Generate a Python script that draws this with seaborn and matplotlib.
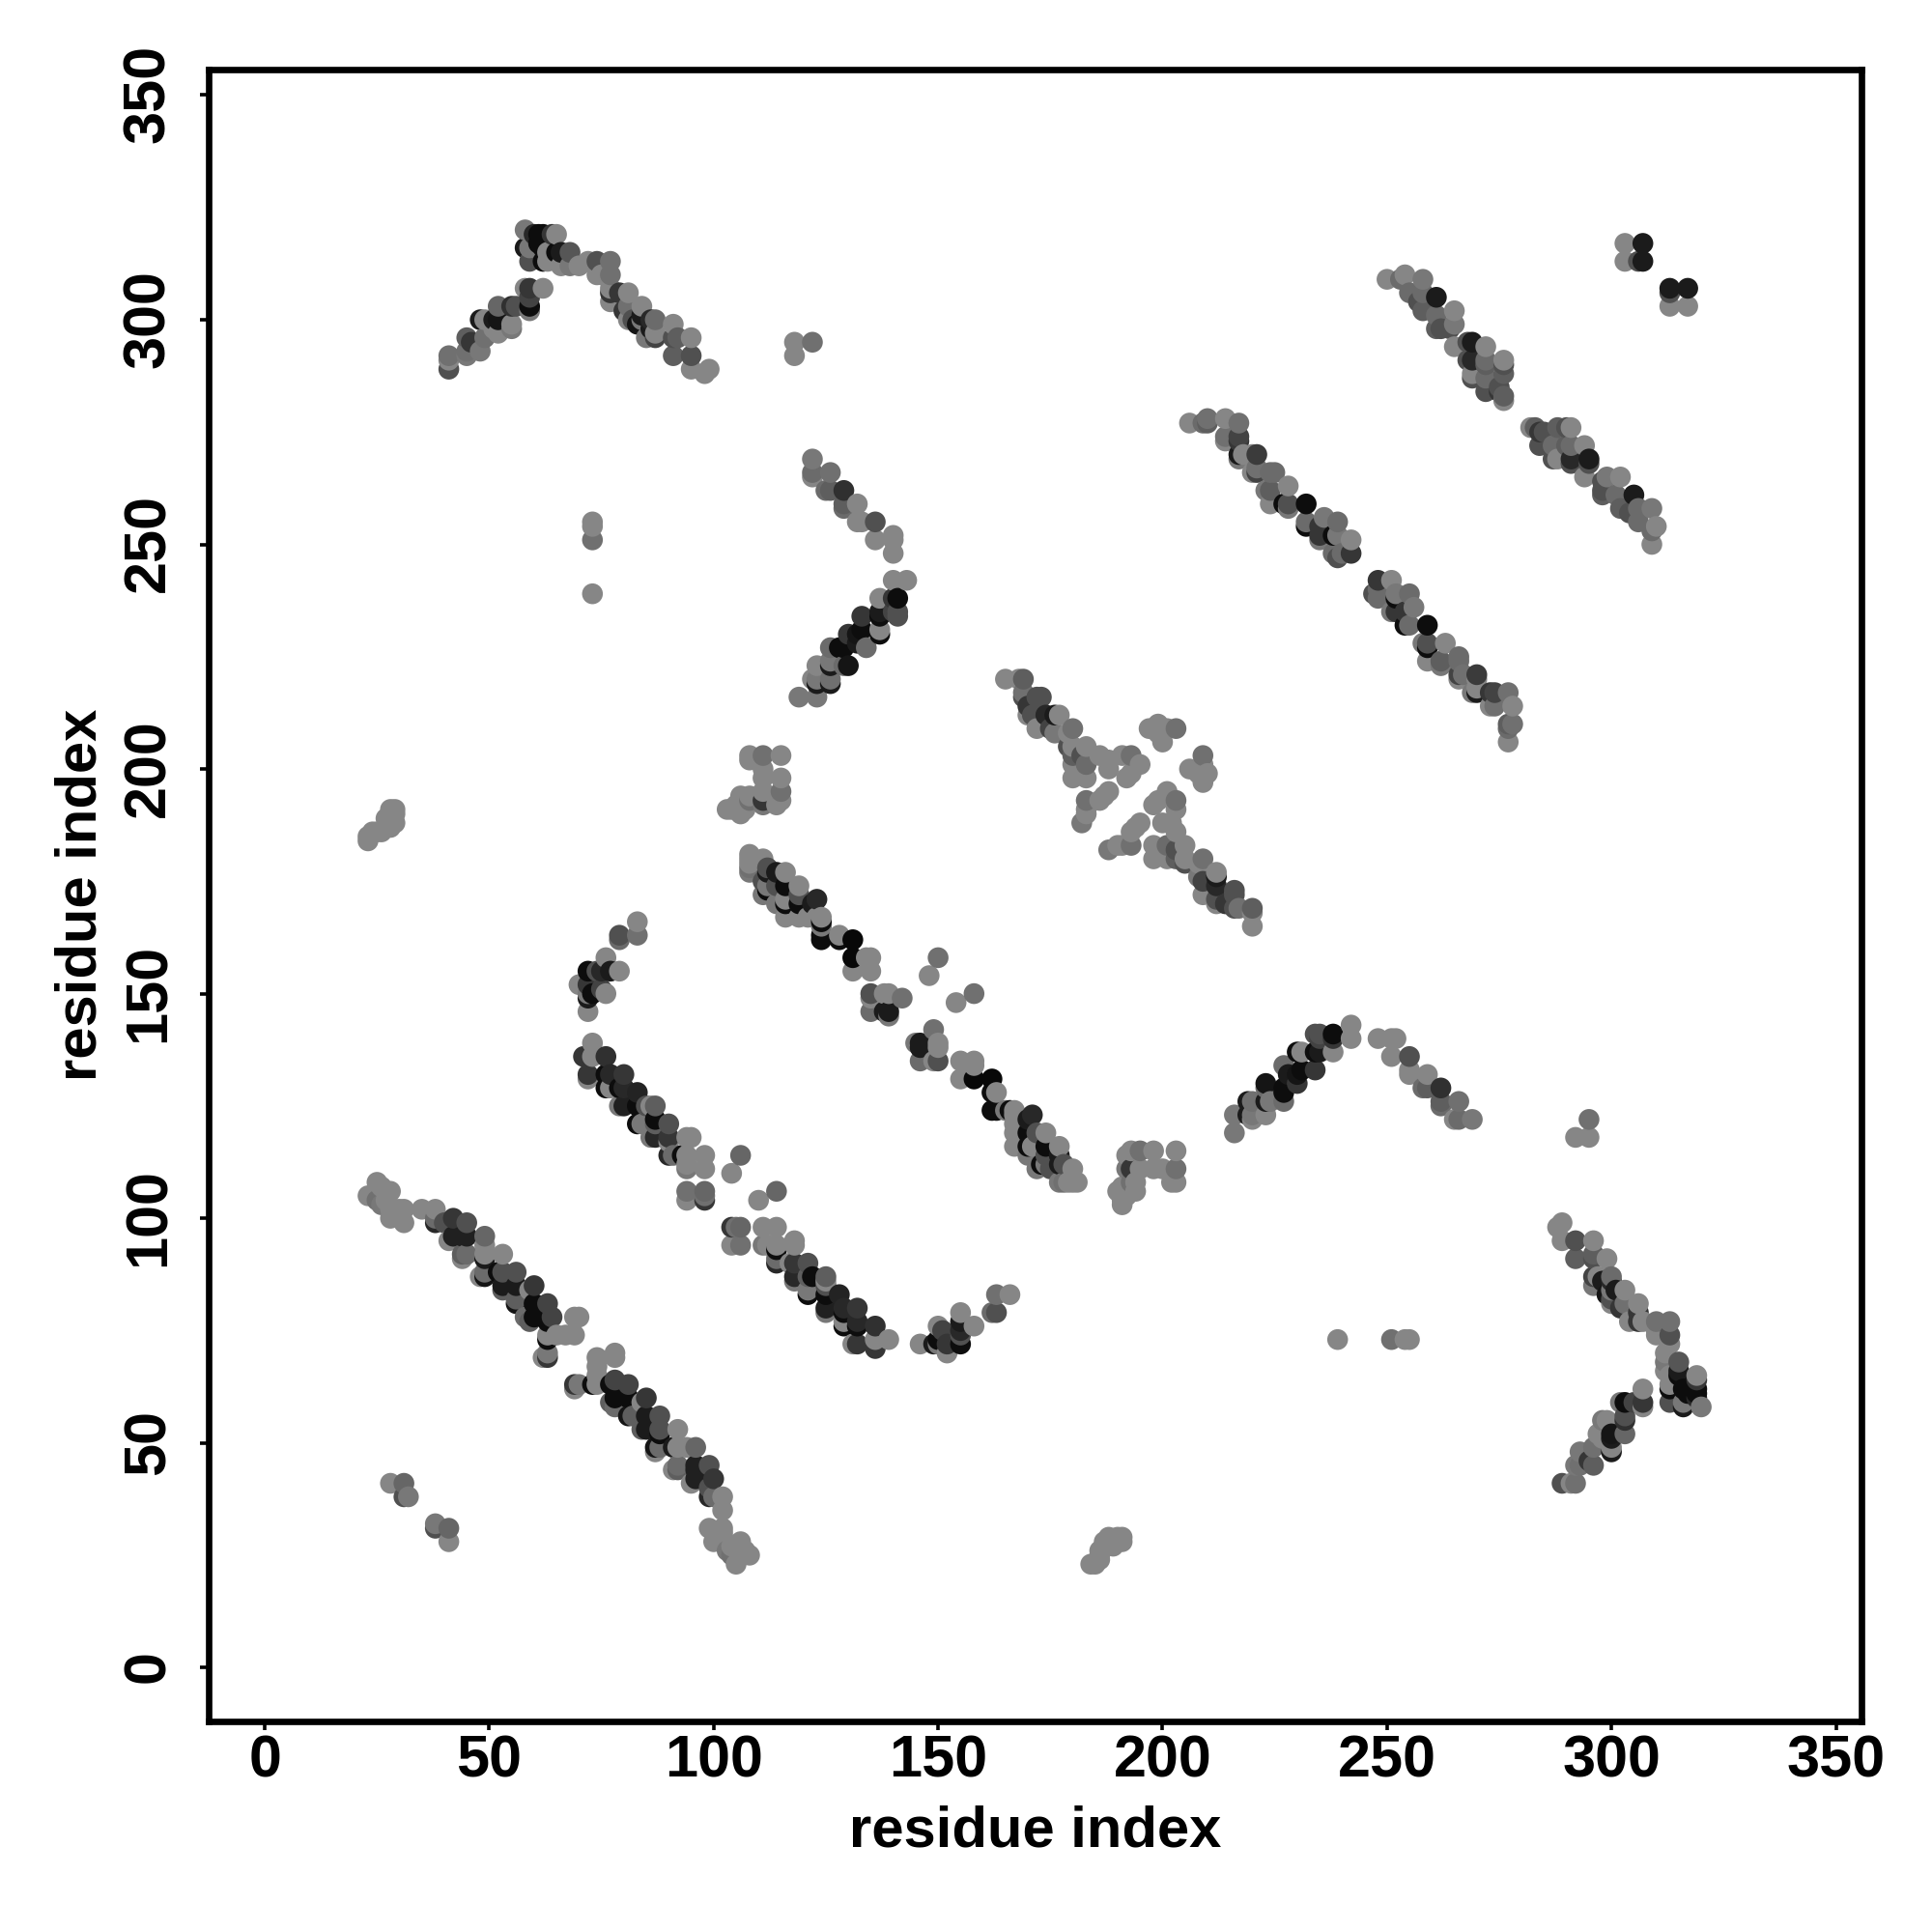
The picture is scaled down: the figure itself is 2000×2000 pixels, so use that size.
import matplotlib
matplotlib.use("Agg")
import matplotlib.pyplot as plt
from matplotlib.transforms import ScaledTranslation
import numpy as np
import pandas as pd
import seaborn as sns

# contacts as (residue i, residue j, grey level); the map is symmetric in i and j
peak_arm_up = [(41,289,.3),(41,291,.5),(41,292,.42),(45,292,.45),(45,293,.42),(45,296,.35),(46,295,.2),(48,293,.45),
 (49,296,.42),(48,300,.1),(49,300,.5),(51,300,.1),(52,300,.08),(51,298,.5),(52,297,.5),(52,303,.38),(55,298,.45),(55,299,.5),
 (55,303,.18),(56,303,.3),(59,303,.05),(59,302,.45),(58,307,.5),(59,305,.25),(59,307,.2),(62,307,.5)]
peak_top = [(58,320,.45),(60,319,.15),(61,319,.05),(62,319,.05),(64,319,.2),(65,319,.5),(58,316,.1),(59,316,.45),
 (61,317,.05),(62,316,.05),(63,315,.5),(65,315,.05),(66,315,.1),(68,315,.32),(59,313,.3),(62,313,.05),(63,313,.5),
 (65,313,.5),(66,312,.5),(68,312,.45),(70,312,.5),(72,313,.5),(74,313,.3),(77,313,.42),(74,310,.5),(75,310,.5),(77,310,.42)]
peak_arm_down = [(77,307,.5),(77,306,.2),(77,304,.5),(79,306,.2),(81,306,.5),(80,302,.2),(81,303,.42),(81,300,.5),
 (84,303,.5),(84,301,.1),(83,299,.08),(82,300,.3),(84,300,.45),(86,300,.15),(87,300,.4),(86,298,.1),(85,296,.45),
 (87,296,.25),(87,297,.5),(91,299,.5),(91,296,.3),(92,296,.35),(95,296,.5),(91,292,.35),(95,292,.3),(95,289,.5),(98,288,.5),(99,289,.5)]
isolated = [(118,292,.5),(118,295,.5),(122,295,.42),(73,239,.5),(73,251,.42),(73,254,.5),(73,255,.5),
 (28,41,.5),(31,41,.38),(31,38,.3),(32,38,.45),(303,317,.5),(307,317,.1),(303,313,.5),(306,313,.3),(307,313,.1)]
chevron_up = [(122,269,.45),(122,266,.4),(122,265,.5),(126,266,.42),(125,262,.4),(126,262,.35),(129,262,.18),(129,259,.35),
 (129,258,.4),(132,259,.5),(132,255,.5),(133,255,.5),(136,255,.3),(136,251,.5),(140,252,.5),(140,251,.5),(140,248,.5)]
chevron_down = [(140,242,.5),(143,242,.5),(141,238,.05),(140,238,.2),(137,238,.5),(137,235,.1),(137,234,.05),(140,235,.25),
 (141,235,.3),(141,234,.3),(137,231,.5),(137,230,.05),(133,234,.2),(133,231,.05),(132,230,.08),(134,227,.4),(132,228,.1),
 (130,230,.2),(128,227,.05),(129,227,.05),(126,227,.4),(126,224,.45),(126,223,.1),(129,223,.4),(130,223,.08),(123,223,.5),
 (122,220,.5),(123,219,.1),(123,220,.45),(126,219,.1),(126,220,.42),(123,216,.45),(119,216,.45)]
tail_ends = [(23,184,.5),(23,185,.5),(24,186,.5),(25,186,.5),(26,186,.5),(27,187,.5),(27,189,.5),(28,187,.5),(28,188,.5),
 (28,190,.5),(28,191,.5),(29,188,.5),(29,190,.5),(29,191,.5)]
patch_108 = [(108,203,.5),(108,202,.5),(111,203,.42),(115,203,.5),(111,200,.5),(111,198,.5),(115,198,.5),(111,195,.5),
 (115,195,.42),(111,193,.2),(115,193,.5),(111,192,.45),(114,192,.5),(108,193,.42),(108,194,.5),(103,191,.5),(104,191,.5),
 (105,192,.5),(106,190,.5),(106,194,.5),(107,193,.5),(107,191,.5)]
strip_108 = [(108,181,.5),(108,180,.5),(108,179,.5),(108,178,.42),(108,177,.45),(111,180,.5),(112,178,.3),(111,175,.3),
 (112,177,.1),(114,177,.1),(116,177,.5),(112,173,.05),(111,172,.45),(112,174,.45),(114,174,.3),(116,174,.05),(119,174,.5),
 (119,172,.3),(114,170,.45),(116,170,.05),(116,171,.5),(119,170,.05),(116,167,.5),(119,167,.5),(121,167,.5),(122,170,.1),
 (123,171,.15),(123,167,.5),(124,167,.5),(124,166,.05),(124,165,.45),(124,163,.05),(124,162,.05),(128,163,.5),(128,162,.05),
 (131,162,.03),(131,158,.03),(134,158,.5),(135,158,.5),(131,155,.5),(135,155,.5),(135,150,.3),(135,149,.5),(135,146,.4),
 (138,150,.5),(139,150,.5),(138,146,.1),(139,146,.1),(139,145,.45),(142,149,.42),(150,158,.42),(148,154,.5)]
hook_72 = [(83,166,.5),(83,163,.42),(79,163,.3),(79,162,.4),(76,158,.5),(72,155,.05),(74,155,.3),(75,155,.15),(77,155,.1),
 (79,155,.5),(70,152,.5),(72,152,.2),(75,151,.25),(72,150,.45),(73,150,.05),(76,150,.5),(72,149,.1),(72,146,.5)]
strip_73 = [(73,139,.5),(73,136,.5),(71,136,.2),(76,136,.18),(72,132,.2),(72,131,.5),(76,132,.05),(77,132,.15),(80,132,.2),
 (76,129,.05),(77,129,.5),(79,129,.05),(80,129,.15),(83,128,.13),(79,125,.45),(80,125,.12),(83,125,.05),(85,125,.3),(86,125,.5),
 (87,125,.35),(83,121,.05),(84,121,.45),(87,122,.05),(87,121,.35),(90,121,.3),(86,118,.45),(87,118,.15),(90,118,.2),(90,117,.5),
 (94,118,.5),(95,118,.5),(90,114,.15),(91,114,.4),(93,114,.05),(94,114,.5),(98,114,.5),(94,112,.5),(94,111,.45),(98,111,.5),
 (106,114,.38),(104,110,.5),(94,106,.42),(94,104,.5),(98,106,.38),(98,105,.42),(98,104,.2)]
strip_23 = [(23,105,.5),(25,108,.5),(26,107,.5),(27,106,.5),(28,106,.5),(25,104,.42),(26,103,.45),(27,104,.5),(28,102,.5),
 (29,102,.5),(30,102,.5),(28,100,.5),(31,99,.5),(31,102,.5),(35,102,.5),(38,102,.5),(38,100,.4),(38,99,.15),(40,99,.3),
 (42,100,.2),(45,99,.3),(41,95,.5),(42,96,.12),(44,96,.12),(45,96,.12),(49,96,.38),(49,94,.5),(53,92,.5),(44,92,.35),(45,92,.4),
 (44,91,.5),(49,92,.5),(49,91,.1),(48,87,.5),(49,88,.4),(49,87,.08),(52,88,.05),(53,88,.3),(56,88,.3),(53,85,.1),(53,84,.35),
 (56,85,.1),(56,82,.35),(56,81,.08),(59,84,.5),(60,85,.2),(60,81,.05),(63,81,.25),(58,78,.4),(59,77,.35),(60,78,.05),(63,77,.05),
 (64,78,.25),(69,78,.5),(70,78,.5),(63,74,.5),(63,73,.05),(65,74,.5),(67,74,.5),(69,74,.5),(62,69,.5),(63,70,.45),(63,69,.2)]
hairpin_165 = [(165,220,.5),(168,220,.5),(169,220,.35),(169,217,.42),(169,216,.3),(172,216,.3),(173,216,.3),(170,214,.2),
 (170,212,.5),(171,212,.3),(172,209,.5),(174,212,.15),(176,212,.1),(177,212,.5),(175,209,.25),(176,208,.45),(179,208,.5),
 (180,209,.42),(179,205,.3),(180,205,.5),(180,203,.35),(182,203,.3),(183,205,.5),(183,201,.4),(180,201,.5),(180,198,.5),
 (183,198,.5),(186,203,.5),(188,202,.5),(188,200,.5),(191,203,.5),(193,203,.42),(195,201,.5),(192,198,.5),(193,199,.5),
 (183,193,.42),(183,191,.5),(183,190,.5),(182,188,.45),(186,193,.5),(187,194,.5),(188,195,.5),(197,209,.5),(199,210,.5),
 (199,208,.5),(200,206,.5),(201,209,.5),(203,209,.42)]
strip_206 = [(206,277,.5),(209,277,.4),(210,277,.35),(210,278,.42),(214,278,.5),(217,277,.42),(214,274,.42),(214,273,.5),
 (217,274,.25),(217,273,.2),(217,270,.1),(217,269,.45),(218,270,.5),(220,270,.5),(221,270,.22),(220,266,.5),(221,267,.42),
 (221,266,.25),(224,266,.4),(225,266,.4),(228,263,.5),(223,262,.45),(224,262,.35),(224,259,.5),(227,259,.05),(228,259,.3),
 (228,258,.45),(232,259,.05),(232,255,.4),(232,254,.05),(236,256,.45),(235,254,.2),(239,255,.4),(235,252,.2),(235,251,.45),
 (238,252,.05),(239,252,.45),(242,251,.5),(238,248,.4),(240,248,.4),(242,248,.2),(239,247,.3)]
strip_250 = [(250,309,.5),(254,310,.5),(253,309,.4),(258,309,.45),(258,306,.4),(261,305,.1),(255,306,.4),(258,302,.35),(257,304,.3),
 (261,301,.4),(265,302,.5),(261,298,.35),(262,298,.3),(265,299,.45),(264,298,.3),(269,295,.1),(265,294,.5),(268,295,.3),(272,294,.5),
 (269,291,.15),(268,291,.3),(272,291,.4),(272,290,.35),(276,291,.5),(276,290,.3),(269,288,.5),(269,287,.3),(272,287,.4),(272,284,.3),
 (276,288,.35),(275,285,.3),(275,284,.2),(276,282,.5),(276,283,.35)]

segments = [peak_arm_up, peak_top, peak_arm_down, isolated, chevron_up, chevron_down, tail_ends, patch_108,
            strip_108, hook_72, strip_73, strip_23, hairpin_165, strip_206, strip_250]
ticks = [0, 50, 100, 150, 200, 250, 300, 350]
axis_label = "residue index"

half = pd.DataFrame([c for seg in segments for c in seg], columns=["i", "j", "grey"])
contacts = pd.concat([half.rename(columns={"i": "x", "j": "y"}),
                      half.rename(columns={"i": "y", "j": "x"})], ignore_index=True)
contacts = contacts.sort_values(["x", "y"], kind="stable").reset_index(drop=True)
point_colors = [(min(g * 1.05, 1), min(g * 1.05, 1), min(g * 1.05, 1)) for g in contacts["grey"]]

sns.set_theme(style="white")
plt.rcParams["font.family"] = ["Liberation Sans", "DejaVu Sans"]
plt.rcParams["font.weight"] = "bold"

W = H = 2000
fig = plt.figure(figsize=(10, 10), dpi=200, facecolor="white")
ax = fig.add_axes([216 / W, 1 - 1782 / H, (1927 - 216) / W, (1782 - 71.5) / H])

sns.scatterplot(data=contacts, x="x", y="y", c=point_colors, s=60, linewidth=0, ax=ax, legend=False, zorder=3)

ax.set_xlim(-12.5, 355.7)
ax.set_ylim(-12, 355.8)
ax.set_xticks(ticks)
ax.set_yticks(ticks)
ax.set_xticklabels([str(t) for t in ticks], fontsize=22, fontweight="bold", color="black")
ax.set_yticklabels([str(t) for t in ticks], fontsize=22, fontweight="bold", color="black",
                   rotation=90, va="center")
ax.tick_params(axis="both", direction="out", length=3.2, width=1.3, color="black", bottom=True, left=True)
ax.tick_params(axis="x", pad=1.6)
ax.tick_params(axis="y", pad=8.6)
nudge = ScaledTranslation(0, 0.4 / 72, fig.dpi_scale_trans)
for lab in ax.get_yticklabels():
    lab.set_transform(lab.get_transform() + nudge)
for s in ax.spines.values():
    s.set_visible(True)
    s.set_linewidth(2.4)
    s.set_color("black")
ax.grid(False)
ax.set_xlabel(axis_label, fontsize=21.5, fontweight="bold", color="black")
ax.set_ylabel(axis_label, fontsize=21.5, fontweight="bold", color="black")
ax.xaxis.set_label_coords(0.5, -0.0505)
ax.yaxis.set_label_coords(-0.0608, 0.5)

fig.savefig("out.png", dpi=200, facecolor="white")
